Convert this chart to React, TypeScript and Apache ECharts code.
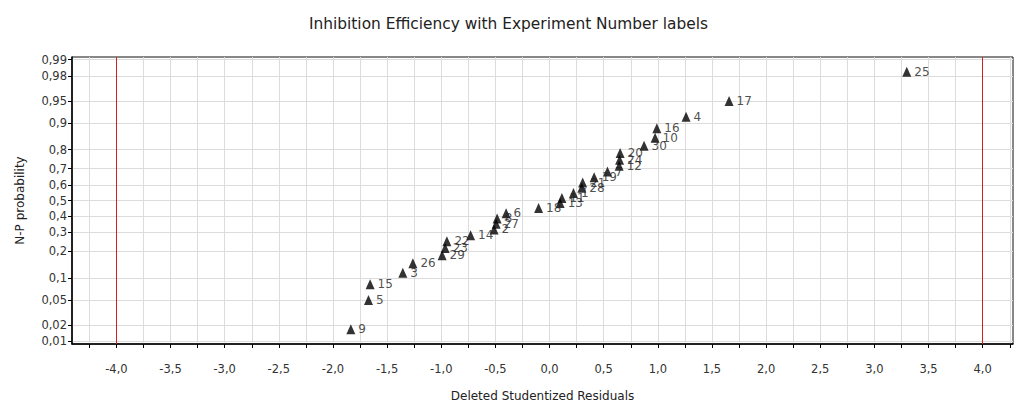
import React, { useEffect, useRef } from "react";
import * as echarts from "echarts";

// Experiment numbers, ordered by rank of their deleted studentized residual
const experimentLabels = [
  "9", "5", "15", "3", "26", "29", "23", "22", "14", "2",
  "27", "8", "6", "18", "13", "11", "1", "28", "21", "19",
  "7", "12", "24", "20", "30", "10", "16", "4", "17", "25",
];

// Deleted studentized residuals (sorted)
const residuals = [
  -1.835, -1.672, -1.657, -1.355, -1.262, -0.992, -0.964, -0.948, -0.729, -0.512,
  -0.493, -0.484, -0.401, -0.101, 0.098, 0.114, 0.221, 0.298, 0.306, 0.412,
  0.535, 0.643, 0.647, 0.652, 0.873, 0.975, 0.991, 1.261, 1.658, 3.299,
];

// Normal plotting probabilities for each ranked residual
const probabilities = [
  0.0167, 0.05, 0.0833, 0.1167, 0.15, 0.1833, 0.2167, 0.25, 0.2833, 0.3167,
  0.35, 0.3833, 0.4167, 0.45, 0.4833, 0.5167, 0.55, 0.5833, 0.6167, 0.65,
  0.6833, 0.7167, 0.75, 0.7833, 0.8167, 0.85, 0.8833, 0.9167, 0.95, 0.9833,
];

// Probability-axis ticks and their labels
const probTicks = [0.99, 0.98, 0.95, 0.9, 0.8, 0.7, 0.6, 0.5, 0.4, 0.3, 0.2, 0.1, 0.05, 0.02, 0.01];
const probTickLabels = ["0,99", "0,98", "0,95", "0,9", "0,8", "0,7", "0,6", "0,5", "0,4", "0,3", "0,2", "0,1", "0,05", "0,02", "0,01"];

// Residual-axis ticks (minor every 0.25) and labelled values
const residualTicks = [
  -4.25, -4, -3.75, -3.5, -3.25, -3, -2.75, -2.5, -2.25, -2, -1.75, -1.5, -1.25, -1, -0.75, -0.5, -0.25,
  0, 0.25, 0.5, 0.75, 1, 1.25, 1.5, 1.75, 2, 2.25, 2.5, 2.75, 3, 3.25, 3.5, 3.75, 4, 4.25,
];
const residualLabels = [-4, -3.5, -3, -2.5, -2, -1.5, -1, -0.5, 0, 0.5, 1, 1.5, 2, 2.5, 3, 3.5, 4];

// Outlier limits
const limits = [-4, 4];

// Inverse standard normal CDF (Acklam's rational approximation) for the probability scale
function probit(p: number): number {
  const a = [-3.969683028665376e1, 2.209460984245205e2, -2.759285104469687e2, 1.38357751867269e2, -3.066479806614716e1, 2.506628277459239];
  const b = [-5.447609879822406e1, 1.615858368580409e2, -1.556989798598866e2, 6.680131188771972e1, -1.328068155288572e1];
  const c = [-7.784894002430293e-3, -3.223964580411365e-1, -2.400758277161838, -2.549732539343734, 4.374664141464968, 2.938163982698783];
  const d = [7.784695709041462e-3, 3.224671290700398e-1, 2.445134137142996, 3.754408661907416];
  const pLow = 0.02425;
  if (p < pLow) {
    const q = Math.sqrt(-2 * Math.log(p));
    return (((((c[0] * q + c[1]) * q + c[2]) * q + c[3]) * q + c[4]) * q + c[5]) /
      ((((d[0] * q + d[1]) * q + d[2]) * q + d[3]) * q + 1);
  }
  if (p > 1 - pLow) {
    const q = Math.sqrt(-2 * Math.log(1 - p));
    return -(((((c[0] * q + c[1]) * q + c[2]) * q + c[3]) * q + c[4]) * q + c[5]) /
      ((((d[0] * q + d[1]) * q + d[2]) * q + d[3]) * q + 1);
  }
  const q = p - 0.5;
  const r = q * q;
  return (((((a[0] * r + a[1]) * r + a[2]) * r + a[3]) * r + a[4]) * r + a[5]) * q /
    (((((b[0] * r + b[1]) * r + b[2]) * r + b[3]) * r + b[4]) * r + 1);
}

const probTickZ = probTicks.map(probit);

function probLabel(z: number): string {
  let best = 0;
  for (let i = 1; i < probTickZ.length; i++) {
    if (Math.abs(probTickZ[i] - z) < Math.abs(probTickZ[best] - z)) best = i;
  }
  return probTickLabels[best];
}

const FONT = "'DejaVu Sans', Verdana, sans-serif";

export default function App() {
  const ref = useRef<HTMLDivElement>(null);

  useEffect(() => {
    if (!ref.current) return;
    const chart = echarts.init(ref.current, undefined, { renderer: "svg" });
    const points = residuals.map((r, i) => [r, probit(probabilities[i]), experimentLabels[i]]);

    chart.setOption({
      animation: false,
      backgroundColor: "#ffffff",
      textStyle: { fontFamily: FONT },
      title: {
        text: "Inhibition Efficiency with Experiment Number labels",
        left: "center",
        top: 11,
        textStyle: { fontSize: 15.4, fontWeight: "normal", color: "#222", fontFamily: FONT },
      },
      grid: {
        left: 72,
        right: 4,
        top: 57,
        bottom: 63,
        show: true,
        borderColor: "#111",
        borderWidth: 1,
      },
      xAxis: {
        type: "value",
        min: -4.41,
        max: 4.28,
        name: "Deleted Studentized Residuals",
        nameLocation: "middle",
        nameGap: 46,
        nameTextStyle: { fontSize: 12, color: "#222", fontFamily: FONT },
        axisLine: { show: true, onZero: false, lineStyle: { color: "#000", width: 1.5 } },
        axisTick: { show: true, customValues: residualTicks, length: 4, lineStyle: { color: "#000" } },
        axisLabel: {
          customValues: residualLabels,
          formatter: (v: number) => v.toFixed(1).replace(".", ","),
          fontSize: 11.5,
          color: "#333",
          margin: 19,
          fontFamily: FONT,
        },
        splitLine: { show: true, lineStyle: { color: "#dcdcdc", width: 1 } },
      },
      yAxis: {
        type: "value",
        min: -2.37,
        max: 2.37,
        name: "N-P probability",
        nameLocation: "middle",
        nameGap: 46,
        nameRotate: 90,
        nameTextStyle: { fontSize: 12, color: "#222", fontFamily: FONT },
        axisLine: { show: true, onZero: false, lineStyle: { color: "#000", width: 1.5 } },
        axisTick: { show: true, customValues: probTickZ, length: 4, lineStyle: { color: "#000" } },
        axisLabel: {
          customValues: probTickZ,
          formatter: (v: number) => probLabel(v),
          fontSize: 11.5,
          color: "#333",
          margin: 5,
          fontFamily: FONT,
        },
        splitLine: { show: true, lineStyle: { color: "#dcdcdc", width: 1 } },
      },
      series: [
        {
          type: "scatter",
          data: points,
          symbol: "triangle",
          symbolSize: [9, 10],
          itemStyle: { color: "#000" },
          label: {
            show: true,
            position: "right",
            distance: 3,
            formatter: (p: any) => p.value[2],
            fontSize: 12,
            color: "#222",
            fontFamily: FONT,
          },
          labelLayout: { hideOverlap: false },
          markLine: {
            silent: true,
            symbol: "none",
            label: { show: false },
            lineStyle: { color: "#cc2222", width: 1, type: "solid" },
            data: limits.map((v) => ({ xAxis: v })),
          },
        },
      ],
    });

    return () => chart.dispose();
  }, []);

  return (
    <div
      ref={ref}
      style={{ position: "fixed", left: 0, top: 0, width: 1017, height: 407, background: "#fff" }}
    />
  );
}
